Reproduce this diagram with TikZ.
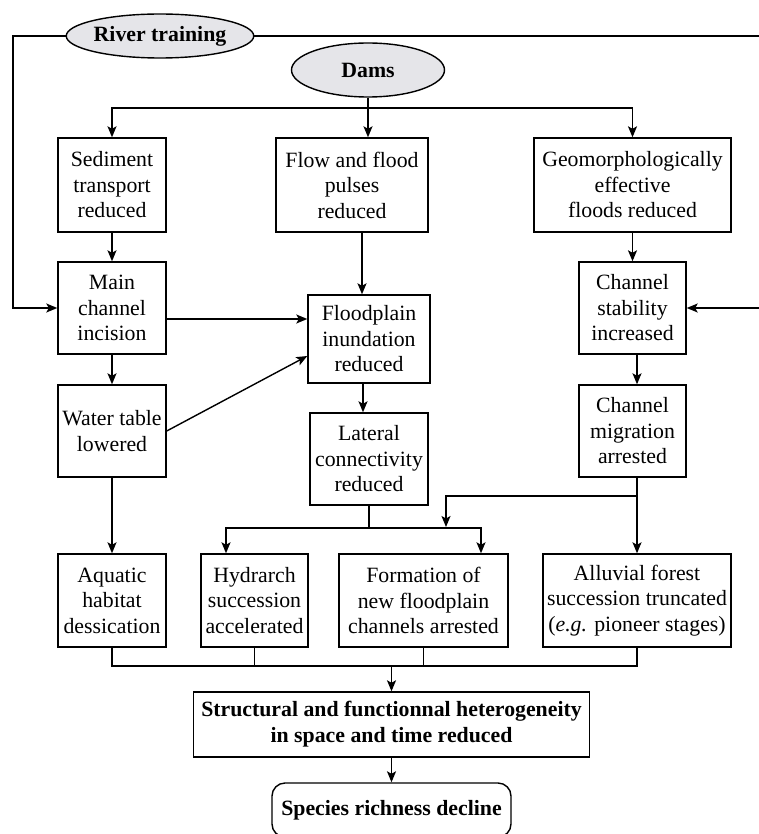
\documentclass[tikz,border=0pt]{standalone}
\usepackage{fontspec}
\setmainfont{Liberation Serif}
\usetikzlibrary{shapes.geometric,arrows.meta,calc}
\definecolor{ellfill}{RGB}{229,229,233}
\begin{document}
\begin{tikzpicture}[x=1pt,y=-1pt,
  box/.style={draw, line width=1.4pt, rectangle, inner sep=0pt, align=center,
    font=\fontsize{21.8}{25.5}\selectfont},
  bbox/.style={box, font=\fontsize{21.8}{26}\selectfont\bfseries},
  ell/.style={draw, line width=1.4pt, ellipse, fill=ellfill, inner sep=0pt,
    font=\fontsize{21.8}{24}\selectfont\bfseries},
  arr/.style={line width=1.4pt, -{Stealth[length=11pt,width=9pt,inset=2.5pt]}},
  ln/.style={line width=1.4pt}]
\useasboundingbox (0,0) rectangle (758,834);

% source ellipses
\node[ell, minimum width=156pt, minimum height=44pt] (river) at (160,36) {River training};
\node[ell, minimum width=153pt, minimum height=54pt] (dams) at (368,70) {Dams};

% top row
\node[box, minimum width=108pt, minimum height=94pt] (sed) at (112,185) {Sediment\\transport\\reduced};
\node[box, minimum width=152pt, minimum height=94pt] (flow) at (352,185) {Flow and flood\\pulses\\reduced};
\node[box, minimum width=197pt, minimum height=94pt] (geo) at (632.5,185) {Geomorphologically\\effective\\floods reduced};

% middle rows
\node[box, minimum width=108pt, minimum height=92pt] (main) at (112,308) {Main\\channel\\incision};
\node[box, minimum width=122pt, minimum height=88pt] (flood) at (369,339) {Floodplain\\inundation\\reduced};
\node[box, minimum width=107pt, minimum height=92pt] (stab) at (632.5,308) {Channel\\stability\\increased};
\node[box, minimum width=108pt, minimum height=92pt] (water) at (112,431) {Water table\\lowered};
\node[box, minimum width=118pt, minimum height=92pt] (lat) at (369,459) {Lateral\\connectivity\\reduced};
\node[box, minimum width=107pt, minimum height=92pt] (migr) at (632.5,431) {Channel\\migration\\arrested};

% bottom row
\node[box, minimum width=108pt, minimum height=93pt] (aqua) at (112,600.5) {Aquatic\\habitat\\dessication};
\node[box, minimum width=107pt, minimum height=93pt] (hyd) at (254.5,600.5) {Hydrarch\\succession\\accelerated};
\node[box, minimum width=169pt, minimum height=93pt] (form) at (423.5,600.5) {Formation of\\new floodplain\\channels arrested};
\node[box, minimum width=188pt, minimum height=93pt] (allu) at (637,600.5) {Alluvial forest\\succession truncated\\(\textit{e.g.} pioneer stages)};

% outcome
\node[bbox, minimum width=396pt, minimum height=65pt] (struct) at (391.5,724.5) {Structural and functionnal heterogeneity\\in space and time reduced};
\node[bbox, rounded corners=13pt, minimum width=239pt, minimum height=54pt] (species) at (391.5,810) {Species richness decline};

% helper coordinates
\coordinate (xflow) at (362,0);
\coordinate (xfl) at (363,0);
\coordinate (xm) at (637,0);
\coordinate (xh) at (226,0);
\coordinate (xf) at (481,0);
\coordinate (ydam) at (0,108);
\coordinate (ymf) at (0,319);
\coordinate (yws) at (0,356);
\coordinate (ylat) at (0,528);
\coordinate (yb) at (0,666);
\coordinate (br) at (637,496);
\coordinate (brend) at (446,527);
\coordinate (lfb) at (13,308);
\coordinate (rfb) at (766,308);

% river training feedbacks
\draw[arr] (river.west) -| (lfb) -- (main.west);
\draw[arr] (river.east) -| (rfb) -- (stab.east);

% dams
\draw[arr] (dams.south) -- (dams.south |- flow.north);
\draw[arr] (dams.south |- ydam) -| (sed.north);
\draw[arr] (dams.south |- ydam) -| (geo.north);

% columns
\draw[arr] (sed.south) -- (main.north);
\draw[arr] (main.south) -- (water.north);
\draw[arr] (water.south) -- (aqua.north);
\draw[arr] (flow.south -| xflow) -- (flood.north -| xflow);
\draw[arr] (main.east |- ymf) -- (flood.west |- ymf);
\draw[arr] (water.east) -- (flood.west |- yws);
\draw[arr] (flood.south -| xfl) -- (lat.north -| xfl);
\draw[arr] (geo.south) -- (stab.north);
\draw[arr] (stab.south -| xm) -- (migr.north -| xm);
\draw[arr] (migr.south -| xm) -- (allu.north);
\draw[arr] (br) -| (brend);

% lateral connectivity split
\draw[ln] (lat.south) -- (lat.south |- ylat);
\draw[arr] (lat.south |- ylat) -| (hyd.north -| xh);
\draw[arr] (lat.south |- ylat) -| (form.north -| xf);

% merge
\draw[ln] (aqua.south) -- (aqua.south |- yb) -- (allu.south |- yb) -- (allu.south);
\draw[ln] (hyd.south) -- (hyd.south |- yb);
\draw[ln] (form.south) -- (form.south |- yb);
\draw[arr] (struct.north |- yb) -- (struct.north);
\draw[arr] (struct.south) -- (species.north);
\end{tikzpicture}
\end{document}
